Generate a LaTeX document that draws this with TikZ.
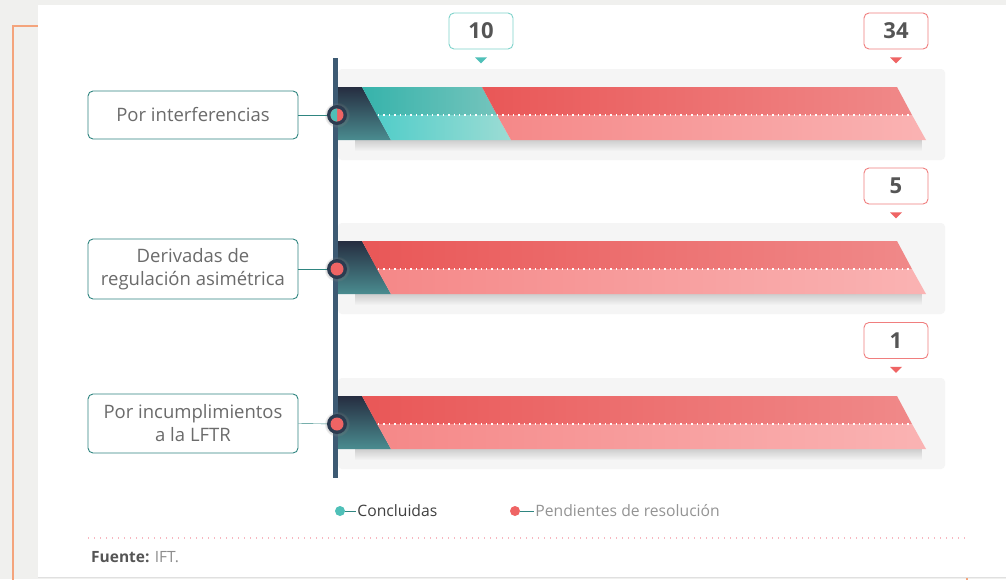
\documentclass[tikz,border=0pt]{standalone}
\usepackage{fontspec}
\setmainfont{Open Sans}
\usepackage{tikz}
\usetikzlibrary{calc,positioning,shadows,fadings}
\usepackage{xcolor}
\definecolor{PageGray}{HTML}{F0F0EE}
\definecolor{FrameOrange}{HTML}{F4A47C}
\definecolor{PanelGray}{HTML}{F5F5F5}
\definecolor{AxisBlue}{HTML}{3D5A73}
\definecolor{DarkTop}{HTML}{262D40}
\definecolor{DarkBottom}{HTML}{4A8C90}
\definecolor{TealUpL}{HTML}{36B3AB}
\definecolor{TealUpR}{HTML}{74C4BC}
\definecolor{TealLoL}{HTML}{52CDC9}
\definecolor{TealLoR}{HTML}{9CDCD4}
\definecolor{RedUpL}{HTML}{E95757}
\definecolor{RedUpR}{HTML}{F08989}
\definecolor{RedLoL}{HTML}{F58888}
\definecolor{RedLoR}{HTML}{FAB3B3}
\definecolor{LabelText}{HTML}{6B6B6B}
\definecolor{LabelLine}{HTML}{2F8580}
\definecolor{ValueText}{HTML}{555555}
\definecolor{CalloutTeal}{HTML}{7FD3CB}
\definecolor{CalloutRed}{HTML}{F07E7E}
\definecolor{DotTeal}{HTML}{4FC0B8}
\definecolor{DotRed}{HTML}{EF6464}
\definecolor{DotPink}{HTML}{F7B7C0}
\definecolor{MarkerRing}{HTML}{2C3B50}

\begin{document}
\begin{tikzpicture}[x=1pt,y=-1pt,
    labelbox/.style={draw=LabelLine,line width=0.9pt,rounded corners=5pt,fill=white,
      text=LabelText,align=center,minimum width=210pt,inner sep=0pt,
      font=\fontsize{18.5}{23}\selectfont},
    valuebox/.style={line width=0.9pt,rounded corners=5pt,fill=white,text=ValueText,
      minimum width=64pt,minimum height=36pt,inner sep=0pt,
      font=\fontsize{22}{24}\selectfont\bfseries},
    marker/.style={circle,fill=MarkerRing,minimum size=20pt,inner sep=0pt,
      circular drop shadow={shadow xshift=0pt,shadow yshift=0pt,shadow scale=1.3,opacity=0.25}},
    barshadow/.style={black,opacity=0.16,path fading=south},
    legenddot/.style={circle,minimum size=10pt,inner sep=0pt},
    legendtext/.style={inner sep=1pt,font=\fontsize{15.7}{18}\selectfont}]
    \useasboundingbox (0,0) rectangle (1006,579);
    \fill[PageGray] (0,0) rectangle (1006,579);
    \draw[FrameOrange,line width=2pt] (12.5,600) -- (12.5,25.5) -- (967,25.5) -- (967,600);
    \fill[white] (38,5) rectangle (1006,577);
    \draw[black!12] (38,577.5) -- (1006,577.5);

    % row 1
    \fill[PanelGray,rounded corners=4pt] (338,69) rectangle (945,160);
    \fill[barshadow] (355,140) rectangle (922,151);
    \shade[top color=DarkTop,bottom color=DarkBottom] (338,87) -- (362,87) -- (391,140) -- (338,140) -- cycle;
    \shade[left color=TealUpL,right color=TealUpR] (362,87) -- (482,87) -- (497,115) -- (377,115) -- cycle;
    \shade[left color=TealLoL,right color=TealLoR] (377,115) -- (497,115) -- (511,140) -- (391,140) -- cycle;
    \shade[left color=RedUpL,right color=RedUpR] (482,87) -- (897,87) -- (912,115) -- (497,115) -- cycle;
    \shade[left color=RedLoL,right color=RedLoR] (497,115) -- (912,115) -- (926,140) -- (511,140) -- cycle;
    \draw[white,line width=1.4pt,dash pattern=on 1.4pt off 4pt] (378,115) -- (910,115);

    % row 2
    \begin{scope}[shift={(0,154)}]
    \fill[PanelGray,rounded corners=4pt] (338,69) rectangle (945,160);
    \fill[barshadow] (355,140) rectangle (922,151);
    \shade[top color=DarkTop,bottom color=DarkBottom] (338,87) -- (362,87) -- (391,140) -- (338,140) -- cycle;
    \shade[left color=RedUpL,right color=RedUpR] (362,87) -- (897,87) -- (912,115) -- (377,115) -- cycle;
    \shade[left color=RedLoL,right color=RedLoR] (377,115) -- (912,115) -- (926,140) -- (391,140) -- cycle;
    \draw[white,line width=1.4pt,dash pattern=on 1.4pt off 4pt] (378,115) -- (910,115);
    \end{scope}

    % row 3
    \begin{scope}[shift={(0,309)}]
    \fill[PanelGray,rounded corners=4pt] (338,69) rectangle (945,160);
    \fill[barshadow] (355,140) rectangle (922,151);
    \shade[top color=DarkTop,bottom color=DarkBottom] (338,87) -- (362,87) -- (391,140) -- (338,140) -- cycle;
    \shade[left color=RedUpL,right color=RedUpR] (362,87) -- (897,87) -- (912,115) -- (377,115) -- cycle;
    \shade[left color=RedLoL,right color=RedLoR] (377,115) -- (912,115) -- (926,140) -- (391,140) -- cycle;
    \draw[white,line width=1.4pt,dash pattern=on 1.4pt off 4pt] (378,115) -- (910,115);
    \end{scope}

    \draw[AxisBlue,line width=5pt] (335.5,58) -- (335.5,478);

    % labels and markers
    \node[labelbox,minimum height=48pt] (interf) at (193,115) {Por interferencias};
    \node[labelbox,minimum height=60pt] (asim) at (193,269) {Derivadas de\\regulación asimétrica};
    \node[labelbox,minimum height=59pt] (lftr) at (193,423.5) {Por incumplimientos\\a la LFTR};
    \node[marker] (mkInterf) at (337,115) {};
    \node[marker] (mkAsim) at (337,269) {};
    \node[marker] (mkLftr) at (337,424) {};
    \fill[DotRed] (mkInterf.center) circle[radius=6.5];
    \begin{scope}
    \clip (328,105) rectangle (337,125);
    \fill[DotTeal] (mkInterf.center) circle[radius=6.5];
    \end{scope}
    \fill[DotRed] (mkAsim.center) circle[radius=6.5];
    \fill[DotRed] (mkLftr.center) circle[radius=6.5];
    \draw[LabelLine] (interf.east) -- (mkInterf);
    \draw[LabelLine] (asim.east) -- (mkAsim);
    \draw[LabelLine] (lftr.east) -- (mkLftr);

    % values
    \node[valuebox,draw=CalloutTeal] (valDone) at (481,31) {10};
    \node[valuebox,draw=CalloutRed] (valInterf) at (896,31) {34};
    \node[valuebox,draw=CalloutRed] (valAsim) at (896,186) {5};
    \node[valuebox,draw=CalloutRed] (valLftr) at (896,340.5) {1};
    \fill[DotTeal] ($(valDone.south)+(-6,8)$) -- ++(12,0) -- ++(-6,6) -- cycle;
    \fill[DotRed] ($(valInterf.south)+(-6,8)$) -- ++(12,0) -- ++(-6,6) -- cycle;
    \fill[DotRed] ($(valAsim.south)+(-6,8)$) -- ++(12,0) -- ++(-6,6) -- cycle;
    \fill[DotRed] ($(valLftr.south)+(-6,8)$) -- ++(12,0) -- ++(-6,6) -- cycle;

    % legend
    \node[legenddot,fill=DotTeal] (legDone) at (340,511) {};
    \node[legendtext,text=black!75,right=11pt of legDone] (legDoneText) {Concluidas};
    \draw[LabelLine] (legDone) -- (legDoneText.west);
    \node[legenddot,fill=DotRed] (legOpen) at (515,511) {};
    \node[legendtext,text=black!42,right=14pt of legOpen] (legOpenText) {Pendientes de resolución};
    \draw[LabelLine] (legOpen) -- (legOpenText.west);

    \draw[DotPink,line width=1.3pt,dash pattern=on 1.3pt off 4.7pt] (88,538) -- (965,538);
    \node[anchor=west,inner sep=0pt,text=ValueText,font=\fontsize{15.5}{17}\selectfont] (source) at (91,557)
      {\textbf{Fuente:} \textcolor{black!45}{IFT.}};
\end{tikzpicture}
\end{document}
